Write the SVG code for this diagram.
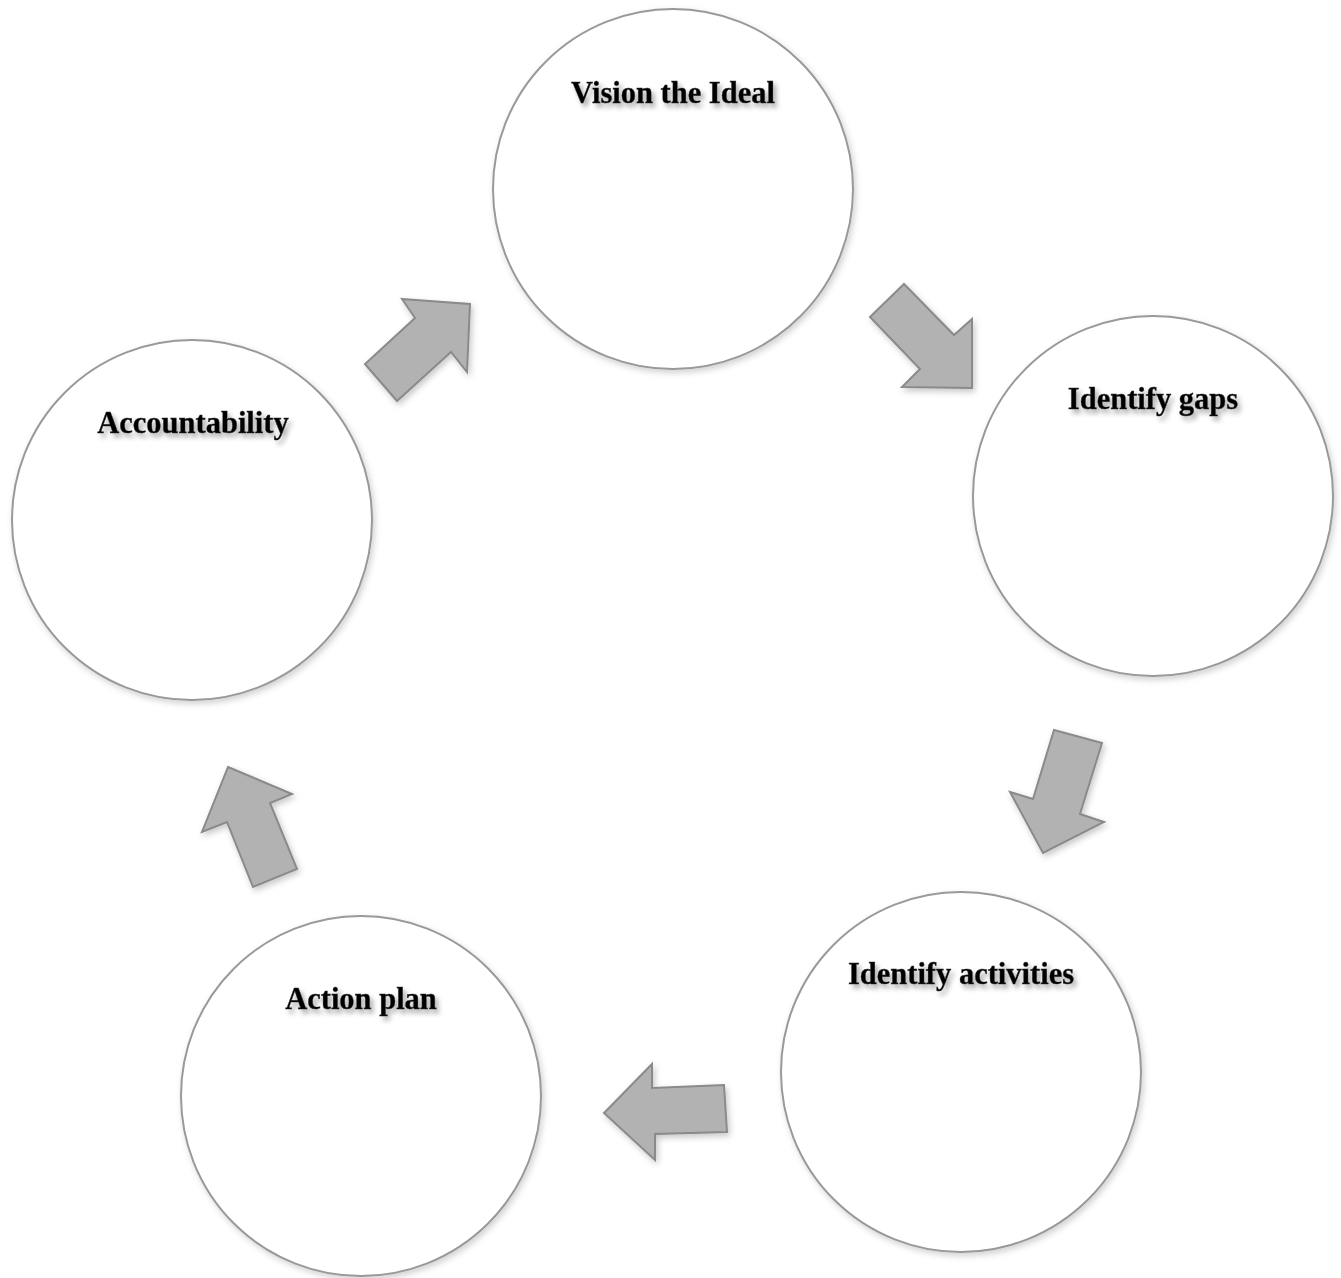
<svg xmlns="http://www.w3.org/2000/svg" width="1341" height="1278" viewBox="0 0 1341 1278">
<style>
.node circle{fill:#fff;stroke:#999;stroke-width:2;filter:url(#cs)}
.node text{font-family:"Liberation Serif","Times New Roman",serif;font-weight:bold;font-size:30.5px;fill:#000;stroke:#333;stroke-width:0.4;text-anchor:middle;filter:url(#ts)}
.arr polygon{fill:#b2b2b2;stroke:#8a8a8a;stroke-width:2;stroke-linejoin:miter;filter:url(#as)}
</style>
<defs>
<filter id="cs" x="-10%" y="-10%" width="120%" height="120%"><feDropShadow dx="2" dy="3" stdDeviation="3" flood-color="#000" flood-opacity="0.18"/></filter>
<filter id="ts" x="-10%" y="-30%" width="120%" height="160%"><feDropShadow dx="3" dy="4" stdDeviation="2.5" flood-color="#000" flood-opacity="0.35"/></filter>
<filter id="as" x="-20%" y="-20%" width="140%" height="140%"><feDropShadow dx="2" dy="3" stdDeviation="3" flood-color="#000" flood-opacity="0.22"/></filter>
</defs>
<rect width="1341" height="1278" fill="#fff"/>
<g id="connectors" class="arr">
<polygon points="402,299 470,304 467,372 451,352 397,401 365,364 415,318"/>
<polygon points="904,284 954,335 972,319 972,388 902,387 920,369 870,317"/>
<polygon points="1054,730 1102,743 1080,814 1104,822 1043,853 1010,792 1033,799"/>
<polygon points="652,1064 652,1088 724,1085 727,1132 655,1134 655,1160 604,1113"/>
<polygon points="228,767 292,794 270,803 297,869 253,887 227,822 202,832"/>
</g>
<g id="n1" class="node"><circle cx="673" cy="189" r="180"/><text x="673" y="103">Vision the Ideal</text></g>
<g id="n2" class="node"><circle cx="1153" cy="496" r="180"/><text x="1153" y="409">Identify gaps</text></g>
<g id="n3" class="node"><circle cx="961" cy="1072" r="180"/><text x="961" y="984">Identify activities</text></g>
<g id="n4" class="node"><circle cx="361" cy="1096" r="180"/><text x="361" y="1009">Action plan</text></g>
<g id="n5" class="node"><circle cx="192" cy="520" r="180"/><text x="193" y="433">Accountability</text></g>
</svg>
